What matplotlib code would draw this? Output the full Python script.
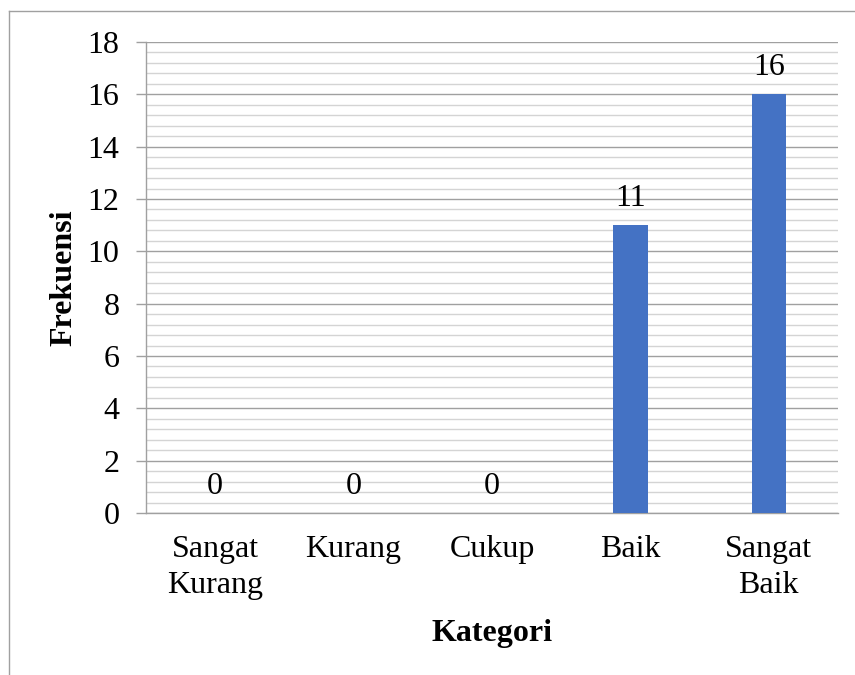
import numpy as np
import matplotlib.pyplot as plt
from matplotlib.lines import Line2D

kategori = ["Sangat\nKurang", "Kurang", "Cukup", "Baik", "Sangat\nBaik"]
frekuensi = [0, 0, 0, 11, 16]

plt.rcParams['font.family'] = ['Liberation Serif', 'DejaVu Serif']
fs = 23

fig = plt.figure(figsize=(8.55, 6.75), dpi=100)
ax = fig.add_axes([146/855, 1 - 513/675, (838-146)/855, (513-42)/675])

x = np.arange(len(kategori))
bars = ax.bar(x, frekuensi, width=0.25, color='#4472C4', zorder=3)

for xi, v in zip(x, frekuensi):
    ax.annotate(str(v), (xi, v), xytext=(0, 9), textcoords='offset points',
                ha='center', va='bottom', fontsize=fs, color='black')

ax.set_xlim(-0.5, len(kategori) - 0.5)
ax.set_ylim(0, 18)
ax.set_yticks(np.arange(0, 19, 2))
ax.set_yticks(np.arange(0, 18.01, 0.4), minor=True)
ax.set_xticks(x)
ax.set_xticklabels(kategori, fontsize=fs, linespacing=1.3)
ax.tick_params(axis='y', labelsize=fs, length=7, width=1, color='#a0a0a0', pad=12)
ax.tick_params(axis='y', which='minor', length=0)
ax.tick_params(axis='x', length=0, pad=16)

ax.grid(axis='y', which='minor', color='#d4d4d4', linewidth=1, zorder=0)
ax.grid(axis='y', which='major', color='#a0a0a0', linewidth=1, zorder=1)

for s in ['top', 'right']:
    ax.spines[s].set_visible(False)
for s in ['left', 'bottom']:
    ax.spines[s].set_color('#a0a0a0')
    ax.spines[s].set_linewidth(1)

ax.set_ylabel("Frekuensi", fontsize=fs, fontweight='bold', labelpad=7)
ax.set_xlabel("Kategori", fontsize=fs, fontweight='bold', labelpad=14)

# outer frame (top and left only, as in the reference)
fig.add_artist(Line2D([9/855, 1], [1 - 11/675, 1 - 11/675], color='#a0a0a0', lw=1, transform=fig.transFigure))
fig.add_artist(Line2D([9/855, 9/855], [0, 1 - 11/675], color='#a0a0a0', lw=1, transform=fig.transFigure))

fig.savefig("out.png", dpi=100)
